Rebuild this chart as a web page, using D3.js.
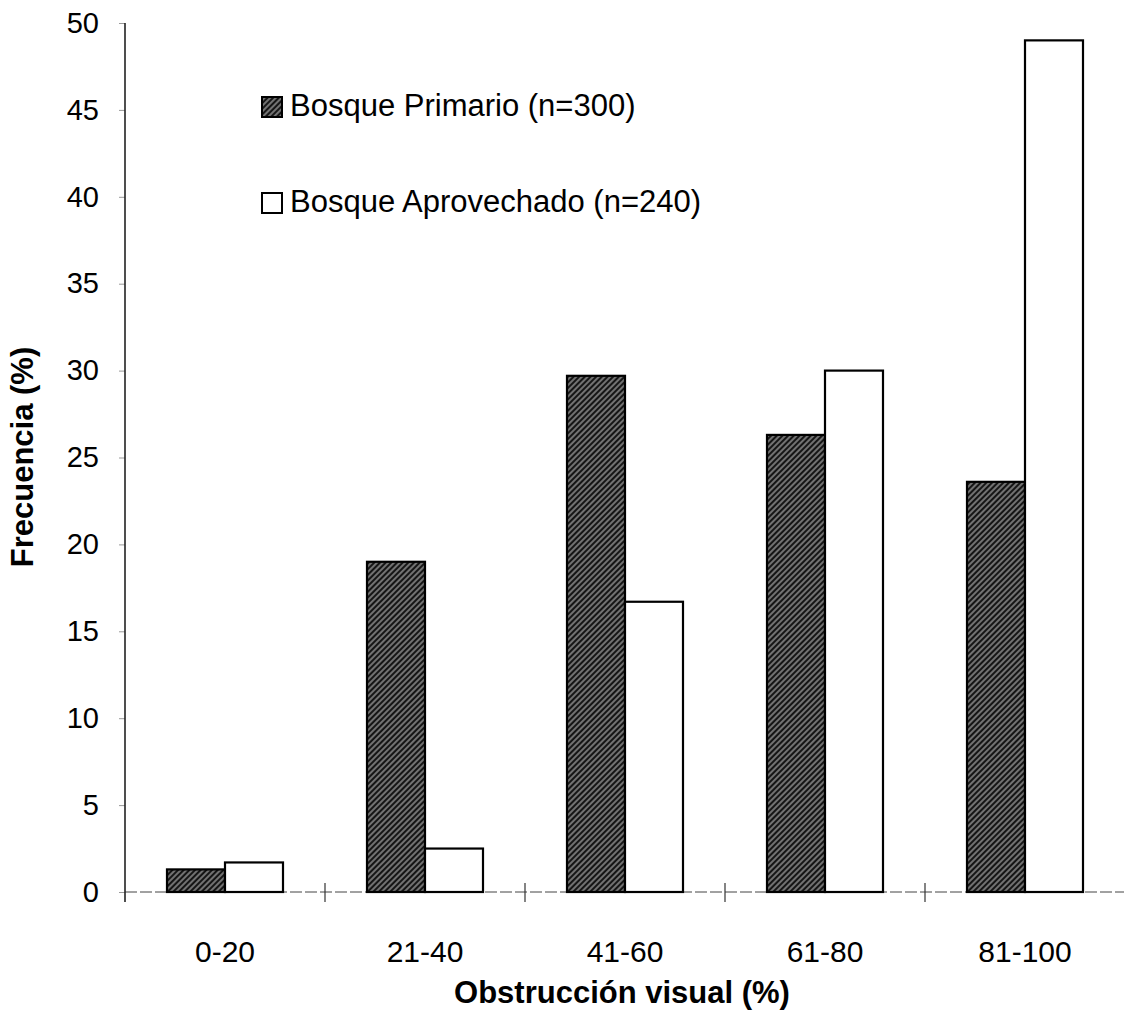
<!DOCTYPE html>
<html>
<head>
<meta charset="utf-8">
<script src="https://cdn.jsdelivr.net/npm/d3@7"></script>
<style>
  body { margin: 0; background: #fff; }
  svg { display: block; font-family: "Liberation Sans", Arial, sans-serif; }
</style>
</head>
<body>
<div id="chart-area"></div>
<script>
// data
let categories = ["0-20", "21-40", "41-60", "61-80", "81-100"];
let primario = [1.3, 19.0, 29.7, 26.3, 23.6];
let aprovechado = [1.7, 2.5, 16.7, 30.0, 49.0];
let seriesNames = ["Bosque Primario (n=300)", "Bosque Aprovechado (n=240)"];
let yTicks = [0, 5, 10, 15, 20, 25, 30, 35, 40, 45, 50];

let W = 1124, H = 1012;
let margin = {left: 125, right: 1125, top: 23, bottom: 892};

let svg = d3.select("#chart-area").append("svg")
    .attr("width", W)
    .attr("height", H);

// hatch pattern for the dark series
let defs = svg.append("defs");
let pat = defs.append("pattern")
    .attr("id", "hatch")
    .attr("patternUnits", "userSpaceOnUse")
    .attr("width", 4)
    .attr("height", 4)
    .attr("patternTransform", "rotate(45)");
pat.append("rect").attr("width", 4).attr("height", 4).attr("fill", "#151515");
pat.append("line")
    .attr("x1", 1).attr("y1", 0).attr("x2", 1).attr("y2", 4)
    .attr("stroke", "#b0b0b0").attr("stroke-width", 1.2);

// Scales
let x0 = d3.scaleBand()
    .domain(categories)
    .range([margin.left, margin.right])
    .paddingInner(0.42)
    .paddingOuter(0.21);

let xb = d3.scaleBand()
    .domain(categories)
    .range([margin.left, margin.right])
    .padding(0);

let x1 = d3.scaleBand()
    .domain([0, 1])
    .range([0, x0.bandwidth()]);

let y = d3.scaleLinear()
    .domain([0, 50])
    .range([margin.bottom, margin.top]);

// x axis line (faint, broken like the scan)
svg.append("line")
    .attr("x1", margin.left).attr("x2", W)
    .attr("y1", margin.bottom).attr("y2", margin.bottom)
    .attr("stroke", "#444")
    .attr("stroke-width", 1)
    .attr("stroke-dasharray", "12,3");

// boundary ticks between categories
svg.selectAll(".bound")
    .data(categories.slice(1))
    .enter().append("line")
    .attr("class", "bound")
    .attr("x1", d => xb(d)).attr("x2", d => xb(d))
    .attr("y1", margin.bottom - 9).attr("y2", margin.bottom + 10)
    .attr("stroke", "#333")
    .attr("stroke-width", 1.2);

// bars
let rows = categories.map((c, i) => ({cat: c, vals: [primario[i], aprovechado[i]]}));

let groups = svg.selectAll(".grp")
    .data(rows)
    .enter().append("g")
    .attr("class", "grp")
    .attr("transform", d => "translate(" + x0(d.cat) + ",0)");

groups.selectAll("rect")
    .data(d => d.vals.map((v, k) => ({k: k, v: v})))
    .enter().append("rect")
    .attr("x", d => x1(d.k))
    .attr("y", d => y(d.v))
    .attr("width", x1.bandwidth())
    .attr("height", d => margin.bottom - y(d.v))
    .attr("fill", d => d.k == 0 ? "url(#hatch)" : "#fff")
    .attr("stroke", "#000")
    .attr("stroke-width", 2.2);

// y axis
let yAxis = d3.axisLeft(y)
    .tickValues(yTicks)
    .tickSize(6)
    .tickPadding(20);

let gy = svg.append("g")
    .attr("transform", "translate(" + margin.left + ",0)")
    .call(yAxis);
gy.select(".domain").remove();
gy.selectAll(".tick line").attr("stroke", "#999");
gy.selectAll(".tick text")
    .attr("font-size", 29)
    .attr("fill", "#000")
    .attr("font-family", "Liberation Sans, Arial, sans-serif");

svg.append("line")
    .attr("x1", margin.left).attr("x2", margin.left)
    .attr("y1", margin.top).attr("y2", margin.bottom + 10)
    .attr("stroke", "#222")
    .attr("stroke-width", 1.6);

// x axis labels
let xAxis = d3.axisBottom(x0)
    .tickSize(0)
    .tickPadding(49);

let gx = svg.append("g")
    .attr("transform", "translate(0," + margin.bottom + ")")
    .call(xAxis);
gx.select(".domain").remove();
gx.selectAll(".tick text")
    .attr("font-size", 30)
    .attr("fill", "#000")
    .attr("font-family", "Liberation Sans, Arial, sans-serif");

// axis titles
svg.append("text")
    .attr("x", 622)
    .attr("y", 1003)
    .attr("text-anchor", "middle")
    .attr("font-size", 31)
    .attr("font-weight", "bold")
    .text("Obstrucción visual (%)");

svg.append("text")
    .attr("transform", "translate(33,457) rotate(-90)")
    .attr("text-anchor", "middle")
    .attr("font-size", 31)
    .attr("font-weight", "bold")
    .text("Frecuencia (%)");

// legend
let legendY = [116, 212];
let leg = svg.selectAll(".leg")
    .data(seriesNames)
    .enter().append("g")
    .attr("class", "leg")
    .attr("transform", (d, i) => "translate(262," + legendY[i] + ")");

leg.append("rect")
    .attr("x", 0)
    .attr("y", -19)
    .attr("width", 20)
    .attr("height", 20)
    .attr("fill", (d, i) => i == 0 ? "url(#hatch)" : "#fff")
    .attr("stroke", "#000")
    .attr("stroke-width", 2);

leg.append("text")
    .attr("x", 28)
    .attr("y", 0)
    .attr("font-size", 31)
    .text(d => d);
</script>
</body>
</html>
